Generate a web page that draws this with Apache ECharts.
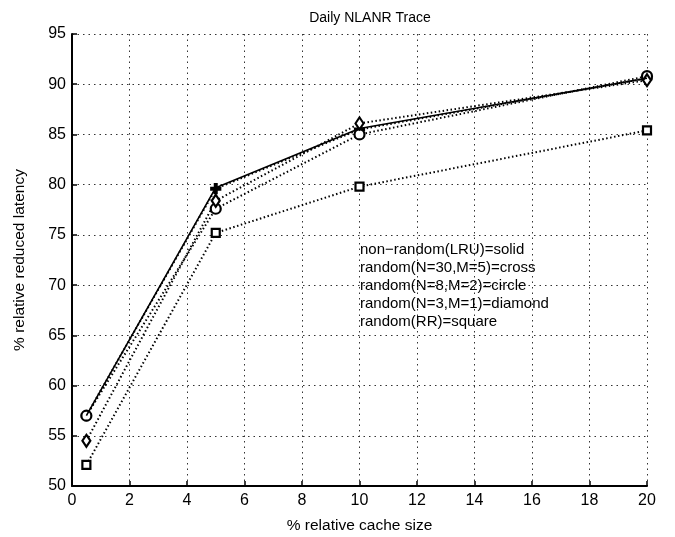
<!DOCTYPE html>
<html><head><meta charset="utf-8">
<script src="https://cdn.jsdelivr.net/npm/echarts@6/dist/echarts.min.js"></script>
<style>html,body{margin:0;padding:0;background:#fff}#c{width:675px;height:537px}</style>
</head><body><div id="c"></div>
<script>
const xValues = [0.5, 5, 10, 20];
const lruSolid = [57.0, 79.7, 85.6, 90.6];
const crossN30M5 = [57.0, 79.6, 85.5, 90.6];
const circleN8M2 = [57.0, 77.6, 85.0, 90.8];
const diamondN3M1 = [54.5, 78.4, 86.1, 90.4];
const squareRR = [52.1, 75.2, 79.8, 85.4];
const legendLines = [
  'non\u2212random(LRU)=solid',
  'random(N=30,M=5)=cross',
  'random(N=8,M=2)=circle',
  'random(N=3,M=1)=diamond',
  'random(RR)=square'
];
const xTicks = [0,2,4,6,8,10,12,14,16,18,20];
const yTicks = [50,55,60,65,70,75,80,85,90,95];

const pair = arr => xValues.map((x,i)=>[x,arr[i]]);
const font = 'Liberation Sans, Arial, sans-serif';
const plusPath = 'path://M4,0 L6,0 L6,4 L10,4 L10,6 L6,6 L6,10 L4,10 L4,6 L0,6 L0,4 L4,4 Z';

function dotted(name, data, symbol, size, filled){
  return {
    name, type:'line', data: pair(data), symbol, symbolSize: size,
    lineStyle:{color:'#000', width:2, type:[1.5,2.5]},
    itemStyle:{color: filled ? '#000' : '#fff', borderColor:'#000', borderWidth:2.2},
    z: 3
  };
}

const chart = echarts.init(document.getElementById('c'));
chart.setOption({
  animation:false,
  backgroundColor:'#fff',
  title:{text:'Daily NLANR Trace', left:365, top:6, textAlign:'center',
    textStyle:{fontFamily:font, fontSize:14, fontWeight:'normal', color:'#000'}},
  grid:{left:72, right:28, top:34, bottom:51, outerBoundsMode:'none', containLabel:false},
  xAxis:{type:'value', min:0, max:20, interval:2,
    name:'% relative cache size', nameLocation:'middle', nameGap:32,
    nameTextStyle:{fontFamily:font, fontSize:15.5, color:'#000'},
    axisLine:{lineStyle:{color:'#000', width:2}},
    axisTick:{inside:true, length:5, lineStyle:{color:'#000', width:1.5}},
    axisLabel:{fontFamily:font, fontSize:16, color:'#000', margin:7},
    splitLine:{show:true, lineStyle:{color:'#333', width:1, type:[1.5,4]}}
  },
  yAxis:{type:'value', min:50, max:95, interval:5,
    name:'% relative reduced latency', nameLocation:'middle', nameGap:44,
    nameTextStyle:{fontFamily:font, fontSize:15.5, color:'#000'},
    axisLine:{lineStyle:{color:'#000', width:2}},
    axisTick:{inside:true, length:5, lineStyle:{color:'#000', width:1.5}},
    axisLabel:{fontFamily:font, fontSize:16, color:'#000', margin:6},
    splitLine:{show:true, lineStyle:{color:'#333', width:1, type:[1.5,4]}}
  },
  series:[
    {name:'LRU', type:'line', data:pair(lruSolid), symbol:'none',
      lineStyle:{color:'#000', width:1.6, type:'solid'}, z:4},
    dotted('cross', crossN30M5, plusPath, 9, true),
    dotted('circle', circleN8M2, 'circle', 10, false),
    dotted('diamond', diamondN3M1, 'diamond', [8,12], false),
    dotted('square', squareRR, 'rect', 8, false)
  ],
  graphic: legendLines.map((t,i)=>({
    type:'text', left:360, top:242 + i*18.2,
    style:{text:t, font:'15px ' + font, fill:'#000'}
  }))
});
</script></body></html>
